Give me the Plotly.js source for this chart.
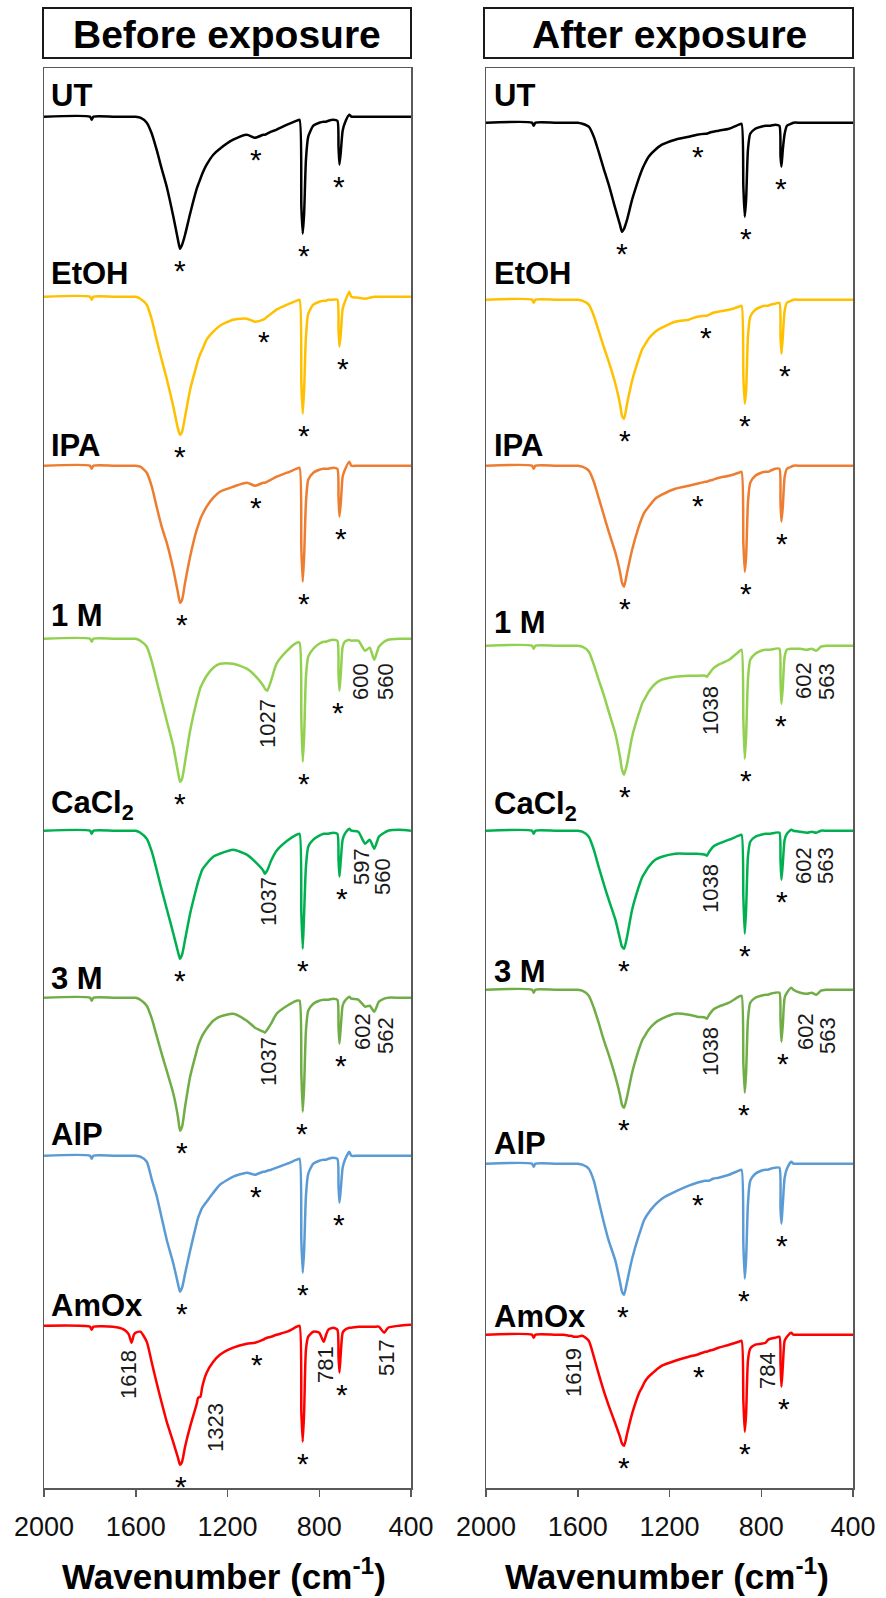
<!DOCTYPE html>
<html>
<head>
<meta charset="utf-8">
<script src="https://cdn.plot.ly/plotly-3.0.1.min.js"></script>
<style>
  html, body { margin: 0; padding: 0; background: #ffffff; }
  #chart { width: 886px; height: 1598px; }
</style>
</head>
<body>
<div id="chart"></div>
<script>
// FTIR spectra (transmittance, %) of marble samples before and after exposure.
const wavenumber = [
  2000, 1800, 1792, 1784, 1700, 1660, 1640, 1630, 1618, 1608,
  1600, 1580, 1552, 1530, 1509, 1487, 1465, 1436, 1416, 1407,
  1398, 1385, 1363, 1334, 1328, 1318, 1310, 1291, 1262, 1233,
  1175, 1116, 1080, 1044, 1037, 1027, 1010, 986, 940, 898,
  886, 878, 872, 866, 858, 848, 826, 800, 781, 770,
  760, 739, 721, 716, 712, 706, 698, 688, 669, 660,
  630, 600, 580, 560, 540, 517, 500, 450, 400
];

const samples = ['UT', 'EtOH', 'IPA', '1 M', 'CaCl<sub>2</sub>', '3 M', 'AlP', 'AmOx'];
const sampleColors = ['#000000', '#FFC000', '#ED7D31', '#92D050', '#00B050', '#70AD47', '#5B9BD5', '#FF0000'];
const tickValues = [2000, 1600, 1200, 800, 400];

// ---- Before exposure ----
const utBefore = [
  100,100,98.5,100,100,100,100,100,100,100,
  100,99.5,97,91.5,83.5,74,65,50,38.5,34,
  36,41,51.5,64,66,69,71.5,76,81,84,
  88.5,91,89.5,91,91,91.5,92.5,93.5,96,98,
  98.5,55,41.5,51.5,78.5,90,95.5,97,97.5,97.5,
  98,98.5,98,85,76,82.5,93,97,101,100,
  100,100,100,100,100,100,100,100,100
];
const etohBefore = [
  100,100,98.5,100,100,100,100,100,100,100,
  100,99,96,88.5,78.5,68.5,59,45,34,31,
  32.5,40,53.5,66,68.5,71.5,73.5,78.5,82.5,85.5,
  88.5,89,87.5,88.5,89,90,91.5,93.5,96,98,
  98.5,56.5,41.5,53.5,80,91.5,96,97.5,98,98,
  98.5,98.5,98.5,83.5,75,81.5,94,97.5,102.5,100,
  99.5,99,99.5,100,100,100,100,100,100
];
const ipaBefore = [
  100,100,98.5,100,100,100,100,100,100,100,
  100,99.5,96.5,89.5,79.5,69.5,61.5,48,36.5,31.5,
  33,41.5,54.5,68,70,73.5,75.5,79.5,84,87,
  89.5,91.5,90,91.5,91.5,92,93,94.5,96.5,98.5,
  99,58,42,54.5,81.5,93,96.5,98,98.5,98.5,
  98.5,99,98.5,84.5,74.5,81.5,94.5,98,102,100,
  100,100,100,100,100,100,100,100,100
];
const m1Before = [
  100,100,98.5,100,100,100,100,100,100,100,
  100,99,96,88.5,79,69,59,46,33.5,28.5,
  30,38.5,54,69,71.5,75.5,77.5,81.5,85.5,87.5,
  87.5,85,81.5,76.5,75,74,79,87.5,94,98,
  98,59,38.5,51,81,91,95,97.5,98.5,98.5,
  99,99.5,99,82.5,74,82.5,96,98.5,99.5,99,
  99,94,95.5,89.5,96,98.5,99.5,100,100
];
const cacl2Before = [
  100,100,98.5,100,100,100,100,100,100,100,
  100,99,96,89.5,80.5,70.5,61,48.5,39.5,36,
  38,45.5,58.5,72,74.5,78,80.5,83.5,87,88.5,
  90.5,88,84.5,80,78.5,80,85,90,95,98,
  98.5,58.5,41,58.5,82,92,95.5,97.5,98.5,98.5,
  98.5,99,98.5,85.5,77,85.5,95.5,98.5,101,100,
  99.5,93.5,95.5,91,97,99,100,100.5,100
];
const m3Before = [
  100,100,98.5,100,100,100,100,100,100,100,
  100,99,96,89.5,81,72,63.5,52,40.5,33.5,
  35.5,45.5,60.5,73.5,76,79,81,84.5,88.5,90.5,
  92,88.5,85,83,82.5,84,87,92,96,98.5,
  98.5,62,43,55.5,83.5,93.5,97,98.5,99,99,
  99,99.5,99,85.5,77,85.5,96,98.5,100.5,99.5,
  99,95.5,96,93,98,99.5,100,100,100
];
const alpBefore = [
  100,100,98.5,100,100,100,100,100,100,100,
  100,99.5,97,88,80,69,58,46,36,32,
  34,41,52.5,66.5,69,72,74,77,81.5,85.5,
  89.5,91.5,90.5,92,92,92.5,93,94,96,98,
  98.5,57.5,41.5,52.5,80,91,96,97.5,98,98,
  98.5,99,98.5,85,76.5,83.5,94,98,102,100,
  100,100,100,100,100,100,100,100,100
];
const amoxBefore = [
  100,99.5,98,99.5,99.5,98.5,97,95.5,91.5,95.5,
  96.5,97,92,81.5,71.5,61.5,52,41.5,34,30.5,
  32,39.5,49.5,61,64,64.5,69.5,76.5,82,85.5,
  89,91,91.5,93,93.5,94,94.5,95.5,97,99.5,
  100,56.5,42,56.5,88,94.5,97,96.5,92,95.5,
  98,99,98,84.5,76.5,86.5,96.5,98,99,99,
  99.5,99.5,99.5,99.5,99.5,96.5,99,100,100.5
];

// ---- After exposure ----
const utAfter = [
  100,100,98.5,100,100,100,100,100,100,100,
  100,99.5,98,93,85.5,77,69,57,49,45.5,
  47,51.5,61.5,72,74,77,79,83,86.5,89,
  91.5,93,94,94.5,94.5,95,95.5,96,97,99,
  99.5,68,53,61.5,86.5,94.5,97,98,98.5,98.5,
  98.5,99,98.5,83,78,86.5,94.5,98.5,99.5,100,
  100,100,100,100,100,100,100,100,100
];
const etohAfter = [
  100,100,98.5,100,100,100,100,100,100,100,
  100,99.5,97.5,92,84.5,76.5,69,58,48,42,
  40.5,48,59.5,70.5,72.5,75.5,77,80.5,84,86,
  89,90,91.5,92,92,92.5,93.5,94,95,96.5,
  97,61.5,48,54.5,81.5,91.5,95,96.5,97,97,
  97.5,98,98.5,81.5,73,81.5,94.5,98.5,99.5,100,
  100,100,100,100,100,100,100,100,100
];
const ipaAfter = [
  100,100,98.5,100,100,100,100,100,100,100,
  100,99.5,97.5,92,84,75.5,67,56.5,47,41.5,
  39.5,46.5,58,69.5,71.5,74.5,76.5,79.5,83.5,85.5,
  88.5,90,91,92,92,92.5,93,94,95,96.5,
  97,61.5,47,54.5,81.5,91.5,95,96.5,97,97,
  97.5,98.5,98.5,81.5,72,79.5,94.5,98.5,99.5,100,
  100,100,100,100,100,100,100,100,100
];
const m1After = [
  100,100,98.5,100,100,100,100,100,100,100,
  100,99.5,97,90.5,83,75.5,67,56,44.5,38,
  35.5,41,54.5,66,68,71.5,73,77,81,83,
  84.5,85,85,85,84.5,86,88.5,90.5,93,97,
  98,63,43.5,54.5,83,93,96,97.5,98,98,
  98,98.5,98.5,83,71,79.5,94.5,98,98.5,98.5,
  98.5,98,98.5,97.5,99.5,100,100,100,100
];
const cacl2After = [
  100,100,98.5,100,100,100,100,100,100,100,
  100,99.5,97,90.5,82,73.5,65.5,55.5,46,42,
  41,47,60.5,72,74,77,78.5,82,85.5,87,
  88.5,88.5,88.5,88,87.5,89.5,92,93.5,95.5,97.5,
  98,67,48.5,60.5,87,94.5,97,98,98.5,98.5,
  98.5,99,99,85.5,75.5,83.5,95.5,98.5,100.5,100,
  99.5,99,99.5,99,100,100,100,100,100
];
const m3After = [
  100,100,98.5,100,100,100,100,100,100,100,
  100,99.5,97,91,83.5,75,67.5,56.5,47.5,42.5,
  41,46.5,58.5,70,72,75,76.5,80,83.5,85.5,
  88,87.5,86.5,86,85.5,87.5,90,91.5,93.5,96.5,
  97,63.5,48.5,58.5,85,93.5,96,97,97.5,97.5,
  98,98.5,98.5,85,74,82.5,96,98.5,101,100,
  98.5,98,98.5,97.5,99.5,100,100,100,100
];
const alpAfter = [
  100,100,98.5,100,100,100,100,100,100,100,
  100,99.5,97.5,91.5,81.5,71,61.5,51.5,41,36,
  34.5,41,52.5,64,66,69.5,72,75.5,79.5,82.5,
  86,89,90.5,91.5,91.5,91.5,92.5,93,94.5,96.5,
  97,60,42.5,52.5,80,91.5,95,96.5,97,97,
  97.5,98,98,77.5,70,80,93,97.5,101,100,
  100,100,100,100,100,100,100,100,100
];
const amoxAfter = [
  100,100,98.5,100,100,100,99.5,99.5,99,99,
  99,99.5,97,89,80.5,72,64.5,55.5,49,45.5,
  44.5,50.5,60.5,70.5,72,74,76,79,82,84.5,
  87,89,90,91.5,91.5,92,92.5,93.5,95,96.5,
  97,67,51.5,60.5,87,93,95,95.5,96,97.5,
  98,98.5,99,85.5,74,84,97,99,101,100,
  100,100,100,100,100,100,100,100,100
];

// Peaks marked with an asterisk (wavenumber, cm-1)
const starsBefore = [
  [1407, 866, 712, 1076], [1407, 866, 695, 1041], [1400, 866, 706, 1076], [1407, 866, 717],
  [1407, 869, 702], [1400, 877, 706], [1400, 872, 712, 1076], [1403, 872, 702, 1070]
];
const starsAfter = [
  [1407, 868, 715, 1076], [1395, 872, 698, 1039], [1395, 868, 708, 1076], [1395, 868, 712],
  [1398, 872, 708], [1398, 875, 705], [1403, 875, 708, 1076], [1398, 872, 702, 1071]
];

// Assigned band labels
const bandLabelsBefore = ['1027', '600', '560', '1037', '597', '560', '1037', '602', '562', '1618', '1323', '781', '517'];
const bandLabelsAfter = ['1038', '602', '563', '1038', '602', '563', '1038', '602', '563', '1619', '784'];

// ---------------- layout geometry (page pixels) ----------------
const W = 886, H = 1598;
const FONT = 'Liberation Sans, Arial, Helvetica, sans-serif';
const plotTop = 68, plotBottom = 1488;
const leftPanel = [44, 411], rightPanel = [486, 853];
const yTop = 124.35;
const yBottom = yTop - (plotBottom - plotTop) / 2;
const stackBefore = [0, -90, -174.5, -261, -357, -440.5, -519.5, -604.5];
const stackAfter = [-3, -91.5, -174.5, -264.5, -357, -436.5, -523.5, -609];
const labelYBefore = [95, 274, 445, 615, 805, 979, 1134, 1305];
const labelYAfter = [96, 274, 446, 622, 806, 971, 1143, 1316];
const bandPosBefore = [[267, 724], [360, 682], [385, 682], [268, 902], [362, 867], [382, 877],
  [268, 1062], [362, 1032], [385, 1036], [128, 1374], [215, 1428], [325, 1365], [386, 1358]];
const bandPosAfter = [[710, 711], [803, 681], [826, 682], [710, 889], [803, 866], [825, 866],
  [710, 1052], [805, 1032], [827, 1036], [573, 1373], [767, 1371]];

const px = x => x / W;
const py = y => 1 - y / H;

const spectraBefore = [utBefore, etohBefore, ipaBefore, m1Before, cacl2Before, m3Before, alpBefore, amoxBefore];
const spectraAfter = [utAfter, etohAfter, ipaAfter, m1After, cacl2After, m3After, alpAfter, amoxAfter];

[...spectraBefore, ...spectraAfter].forEach((s, i) => {
  if (s.length !== wavenumber.length) {
    throw new Error('spectrum ' + i + ' has ' + s.length + ' points, expected ' + wavenumber.length);
  }
});

const traces = [];
const annotations = [];

function bandMin(T, wn0) {
  let m = Infinity;
  wavenumber.forEach((w, k) => { if (Math.abs(w - wn0) <= 20) m = Math.min(m, T[k]); });
  return m;
}

function addPanel(spectra, stack, stars, xa, ya, labelX, labelY) {
  spectra.forEach((T, i) => {
    traces.push({
      type: 'scatter', mode: 'lines',
      x: wavenumber, y: T.map(v => v + stack[i]),
      xaxis: xa, yaxis: ya,
      line: { color: sampleColors[i], width: 2.5, shape: 'spline', smoothing: 0.6 },
      hoverinfo: 'skip', showlegend: false
    });
    stars[i].forEach(wn0 => {
      annotations.push({
        xref: xa, yref: ya, x: wn0, y: bandMin(T, wn0) + stack[i],
        text: '*', showarrow: false, xanchor: 'center', yanchor: 'middle', yshift: -22,
        font: { family: FONT, size: 30, color: '#000' }
      });
    });
    annotations.push({
      xref: 'paper', yref: 'paper', x: px(labelX), y: py(labelY[i]),
      text: '<b>' + samples[i] + '</b>', showarrow: false, xanchor: 'left', yanchor: 'middle',
      font: { family: FONT, size: 31, color: '#000' }
    });
  });
}

addPanel(spectraBefore, stackBefore, starsBefore, 'x', 'y', 49, labelYBefore);
addPanel(spectraAfter, stackAfter, starsAfter, 'x2', 'y2', 492, labelYAfter);

function addBandLabels(texts, pos) {
  texts.forEach((t, i) => {
    annotations.push({
      xref: 'paper', yref: 'paper', x: px(pos[i][0]), y: py(pos[i][1]),
      text: t, showarrow: false, textangle: -90, xanchor: 'center', yanchor: 'middle',
      font: { family: FONT, size: 22, color: '#1a1a1a' }
    });
  });
}
addBandLabels(bandLabelsBefore, bandPosBefore);
addBandLabels(bandLabelsAfter, bandPosAfter);

// Panel headings and axis titles
[['Before exposure', 227], ['After exposure', 669]].forEach(([t, cx]) => {
  annotations.push({
    xref: 'paper', yref: 'paper', x: px(cx), y: py(34), text: '<b>' + t + '</b>',
    showarrow: false, xanchor: 'center', yanchor: 'middle',
    font: { family: FONT, size: 39, color: '#000' }
  });
});
[224, 667].forEach(cx => {
  annotations.push({
    xref: 'paper', yref: 'paper', x: px(cx), y: py(1574), text: '<b>Wavenumber (cm<sup>-1</sup>)</b>',
    showarrow: false, xanchor: 'center', yanchor: 'middle',
    font: { family: FONT, size: 35, color: '#000' }
  });
});

const shapes = [[43, 411], [484, 853]].map(([x0, x1]) => ({
  type: 'rect', xref: 'paper', yref: 'paper',
  x0: px(x0), x1: px(x1), y0: py(58), y1: py(8),
  line: { color: '#1a1a1a', width: 2 }, fillcolor: 'rgba(0,0,0,0)'
}));

const frameColor = '#595959';
function xAxis(dom, anchor) {
  return {
    domain: [px(dom[0]), px(dom[1])], anchor: anchor,
    range: [2000, 400], tickvals: tickValues,
    ticks: 'outside', ticklen: 7, tickwidth: 1.5, tickcolor: frameColor,
    showline: true, linecolor: frameColor, linewidth: 1.5, mirror: true,
    showgrid: false, zeroline: false, ticklabelstandoff: 7,
    tickfont: { family: FONT, size: 27, color: '#111' }, fixedrange: true
  };
}
function yAxis(anchor) {
  return {
    domain: [py(plotBottom), py(plotTop)], anchor: anchor,
    range: [yBottom, yTop], showticklabels: false, ticks: '',
    showline: true, linecolor: frameColor, linewidth: 1.5, mirror: true,
    showgrid: false, zeroline: false, fixedrange: true
  };
}

const layout = {
  width: W, height: H,
  margin: { l: 0, r: 0, t: 0, b: 0 },
  paper_bgcolor: '#ffffff', plot_bgcolor: '#ffffff',
  showlegend: false,
  font: { family: FONT, color: '#000' },
  xaxis: xAxis(leftPanel, 'y'), yaxis: yAxis('x'),
  xaxis2: xAxis(rightPanel, 'y2'), yaxis2: yAxis('x2'),
  annotations: annotations, shapes: shapes
};

Plotly.newPlot('chart', traces, layout, { staticPlot: true, displayModeBar: false });
</script>
</body>
</html>
